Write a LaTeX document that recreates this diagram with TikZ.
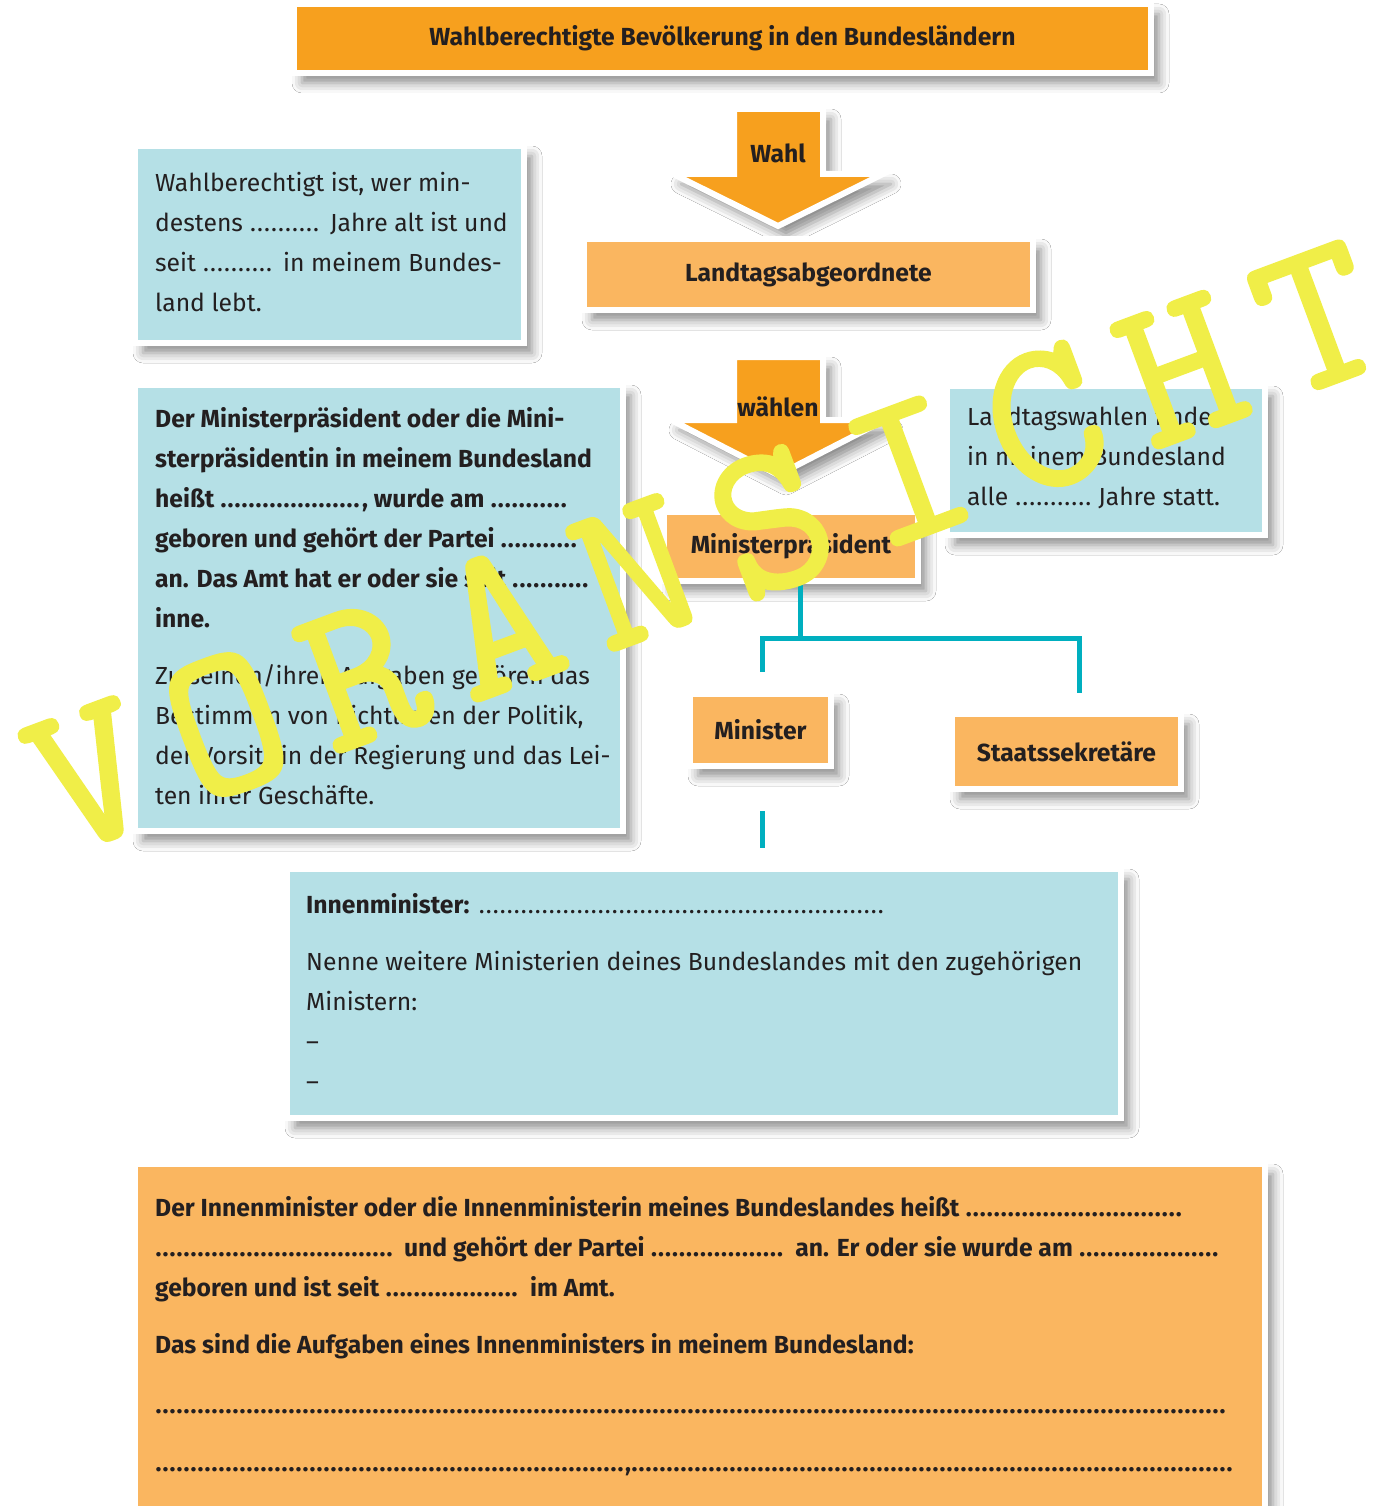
\documentclass[tikz,border=0pt]{standalone}
\usepackage{fontspec}
\setmainfont{Fira Sans}
\newfontfamily\wmfont{lmmono10-regular.otf}[FakeBold=1.5]
\usetikzlibrary{shadows.blur,calc}
\definecolor{orD}{HTML}{F7A01E}
\definecolor{orL}{HTML}{FAB660}
\definecolor{blL}{HTML}{B5E0E6}
\definecolor{tealc}{HTML}{00AFBF}
\definecolor{txtc}{HTML}{231F20}
\definecolor{wmY}{HTML}{F0EE48}
\newcommand\dotsw[1]{\makebox[#1][l]{\leaders\hbox to 7pt{\hss.\hss}\hfill}}
\begin{document}
\begin{tikzpicture}[x=1pt,y=-1pt,
  cbox/.style={draw=white, line width=6pt, inner sep=0pt,
    blur shadow={shadow xshift=8pt, shadow yshift=-10pt, shadow blur radius=10pt, shadow opacity=45}},
  obox/.style={cbox, fill=orL, text=txtc, font=\bfseries\fontsize{24.7}{30}\selectfont},
  bbox/.style={cbox, fill=blL},
  txt/.style={anchor=west, align=left, inner sep=0pt, text=txtc, font=\fontsize{24.7}{40}\selectfont},
  arr/.style={fill=orD, draw=white, line width=6pt, line join=miter,
    blur shadow={shadow xshift=8pt, shadow yshift=-10pt, shadow blur radius=10pt, shadow opacity=45}},
  alab/.style={text=txtc, font=\bfseries\fontsize{24.7}{30}\selectfont, inner sep=0pt},
  conn/.style={draw=tealc, line width=5pt},
  wml/.style={anchor=base, inner sep=0pt, text=wmY, rotate=20.4,
    font=\wmfont\fontsize{216}{216}\selectfont}]
\useasboundingbox (0,0) rectangle (1383,1506);
\fill[white] (0,0) rectangle (1383,1506);

% title
\node[cbox, fill=orD, text=txtc, font=\bfseries\fontsize{24.7}{30}\selectfont,
  minimum width=857pt, minimum height=69pt] (title) at (722.5,38.5) {Wahlberechtigte Bevölkerung in den Bundesländern};

% arrow Wahl
\path[arr] (734,109) -- (823,109) -- (823,174) -- (883,174) -- (778,226) -- (673,174) -- (734,174) -- cycle;
\node[alab] (wahl) at (778,153) {Wahl};

% Landtagsabgeordnete
\node[obox, minimum width=449pt, minimum height=71pt] (lta) at (808.5,274.5) {Landtagsabgeordnete};

% box 1
\node[bbox, minimum width=389pt, minimum height=197pt] (b1) at (329.5,244.5) {};
\node[txt] (b1t) at (155,242) {Wahlberechtigt ist, wer min-\\
destens \dotsw{74pt} Jahre alt ist und\\
seit \dotsw{74pt} in meinem Bundes-\\
land lebt.};

% arrow wählen
\path[arr] (734,357) -- (823,357) -- (823,420) -- (885,420) -- (778,475) -- (671,420) -- (734,420) -- cycle;
\node[alab] (waehlen) at (778,407) {wählen};

% box 2
\node[bbox, minimum width=488pt, minimum height=446pt] (b2) at (379,608) {};
\node[txt] (b2t) at (155,606.5) {\textbf{Der Ministerpräsident oder die Mini-}\\
\textbf{sterpräsidentin in meinem Bundesland}\\
\textbf{heißt \dotsw{142pt}, wurde am \dotsw{78pt}}\\
\textbf{geboren und gehört der Partei \dotsw{78pt}}\\
\textbf{an. Das Amt hat er oder sie seit \dotsw{78pt}}\\
\textbf{inne.}\\[17pt]
Zu seinen/ihren Aufgaben gehören das\\
Bestimmen von Richtlinien der Politik,\\
der Vorsitz in der Regierung und das Lei-\\
ten ihrer Geschäfte.};

% right box
\node[bbox, minimum width=318pt, minimum height=149pt] (b3) at (1106,460.5) {};
\node[txt] (b3t) at (967,458) {Landtagswahlen finden\\
in meinem Bundesland\\
alle \dotsw{77pt} Jahre statt.};

% Ministerpräsident
\node[obox, minimum width=254pt, minimum height=69pt] (mp) at (791,546.5) {Ministerpräsident};

% Minister, Staatssekretäre
\node[obox, minimum width=141pt, minimum height=72pt] (min) at (760.5,730) {Minister};
\node[obox, minimum width=229pt, minimum height=75pt] (sts) at (1066.5,751.5) {Staatssekretäre};

% connectors
\coordinate (jn) at (800,638);
\draw[conn] (jn |- mp.south) -- (jn);
\draw[conn] (jn) -| ([xshift=1.5pt,yshift=19pt]min.north);
\draw[conn] (jn) -| ([xshift=12.5pt,yshift=18pt]sts.north);

% Innenminister box
\node[bbox, minimum width=834pt, minimum height=249pt] (inn) at (704,993.5) {};
\node[txt] (innt) at (306,991.5) {\textbf{Innenminister:} \dotsw{409pt}\\[17pt]
Nenne weitere Ministerien deines Bundeslandes mit den zugehörigen\\
Ministern:\\
–\\
–};
\draw[conn] ([xshift=1.5pt,yshift=-42pt]min.south) -- ([xshift=1.5pt,yshift=18pt]min.south |- inn.north);

% bottom box
\node[cbox, fill=orL, minimum width=1130pt, minimum height=349pt] (bot) at (700,1338.5) {};
\node[txt, font=\bfseries\fontsize{24.7}{40}\selectfont] (bott) at (155,1336.5) {Der Innenminister oder die Innenministerin meines Bundeslandes heißt \dotsw{221pt}\\
\dotsw{243pt} und gehört der Partei \dotsw{139pt} an. Er oder sie wurde am \dotsw{141pt}\\
geboren und ist seit \dotsw{139pt} im Amt.\\[17pt]
Das sind die Aufgaben eines Innenministers in meinem Bundesland:\\[20pt]
\dotsw{1075pt}\\[18pt]
\dotsw{470pt},\dotsw{607pt}};

% watermark
\foreach \l [count=\i from 0] in {V,O,R,A,N,S,I,C,H,T}
  \node[wml] (wm\i) at ({113+\i*136.4},{837-\i*50.7}) {\l};
\end{tikzpicture}
\end{document}
